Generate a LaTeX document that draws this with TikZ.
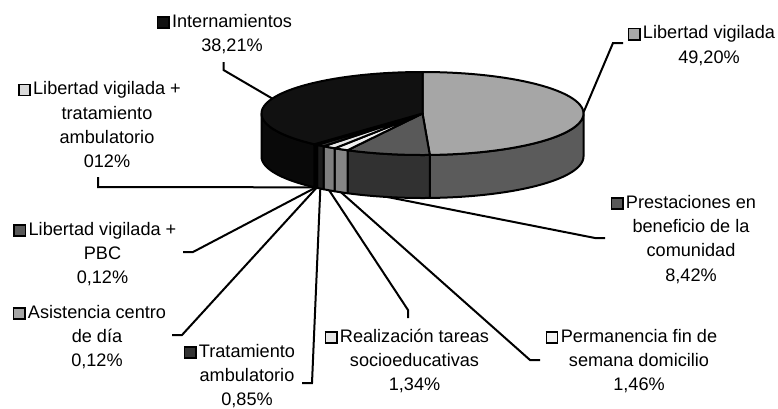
\documentclass[tikz,border=0pt]{standalone}
\usepackage{fontspec}
\setmainfont{Liberation Sans}
\setlength{\fboxsep}{0pt}
\setlength{\fboxrule}{1.2pt}
\definecolor{cLV}{HTML}{A6A6A6}
\definecolor{cPre}{HTML}{595959}
\definecolor{cPer}{HTML}{F2F2F2}
\definecolor{cRea}{HTML}{E6E6E6}
\definecolor{cTra}{HTML}{333333}
\definecolor{cAsi}{HTML}{A6A6A6}
\definecolor{cPBC}{HTML}{595959}
\definecolor{cLVT}{HTML}{D9D9D9}
\definecolor{cInt}{HTML}{111111}
\newcommand{\swatchbox}[1]{\llap{\fcolorbox{black}{#1}{\rule{0pt}{7.2pt}\rule{7.2pt}{0pt}}\hspace{1.8pt}}}
\newcommand{\pcx}{422.5}
\newcommand{\pcy}{113.5}
\newcommand{\pra}{161}
\newcommand{\prb}{41.5}
\newcommand{\pdep}{43}
\newcommand{\piewall}[3]{\filldraw[pieline, fill=#3!55!black] plot[domain=#1:#2, samples=40] ({\pcx+\pra*sin(\x)},{\pcy-\prb*cos(\x)}) -- plot[domain=#2:#1, samples=40] ({\pcx+\pra*sin(\x)},{\pcy-\prb*cos(\x)+\pdep}) -- cycle;}
\newcommand{\pietop}[3]{\filldraw[pieline, fill=#3] (\pcx,\pcy) -- plot[domain=#1:#2, samples=60] ({\pcx+\pra*sin(\x)},{\pcy-\prb*cos(\x)}) -- cycle;}
\begin{document}
\begin{tikzpicture}[x=0.75pt, y=-0.75pt,
  pieline/.style={draw=black, line width=1.5pt, line join=round},
  leader/.style={draw=black, line width=1.5pt},
  lbl/.style={anchor=north, inner sep=0pt, align=center, font=\fontsize{13.6}{18.2}\selectfont}]
\useasboundingbox (0,0) rectangle (778,408);
% side walls
\piewall{90}{177.40}{cLV}
\piewall{177.40}{207.76}{cPre}
\piewall{207.76}{213.03}{cPer}
\piewall{213.03}{217.86}{cRea}
\piewall{217.86}{220.93}{cTra}
\piewall{220.93}{221.36}{cAsi}
\piewall{221.36}{221.79}{cPBC}
\piewall{221.79}{222.22}{cLVT}
\piewall{222.22}{270}{cInt}
% top faces
\pietop{0}{177.40}{cLV}
\pietop{177.40}{207.76}{cPre}
\pietop{207.76}{213.03}{cPer}
\pietop{213.03}{217.86}{cRea}
\pietop{217.86}{220.93}{cTra}
\pietop{220.93}{221.36}{cAsi}
\pietop{221.36}{221.79}{cPBC}
\pietop{221.79}{222.22}{cLVT}
\pietop{222.22}{360}{cInt}
% attachment points
\coordinate (pI) at ({\pcx+\pra*sin(291.1)},{\pcy-\prb*cos(291.1)});
\coordinate (pLV) at ({\pcx+\pra*sin(88.7)},{\pcy-\prb*cos(88.7)});
\coordinate (pP) at ({\pcx+\pra*sin(192.58)},{\pcy-\prb*cos(192.58)+\pdep});
\coordinate (pPe) at ({\pcx+\pra*sin(210.4)},{\pcy-\prb*cos(210.4)+\pdep});
\coordinate (pR) at ({\pcx+\pra*sin(215.45)},{\pcy-\prb*cos(215.45)+\pdep});
\coordinate (pT) at ({\pcx+\pra*sin(219.4)},{\pcy-\prb*cos(219.4)+\pdep});
\coordinate (pA) at ({\pcx+\pra*sin(221.15)},{\pcy-\prb*cos(221.15)+\pdep});
\coordinate (pPBC) at ({\pcx+\pra*sin(221.58)},{\pcy-\prb*cos(221.58)+\pdep});
\coordinate (pLVT) at ({\pcx+\pra*sin(222.0)},{\pcy-\prb*cos(222.0)+\pdep});
% labels
\node[lbl] (lInt) at (232,10) {\strut\swatchbox{cInt}Internamientos\\38,21\%};
\node[lbl] (lLV) at (709,21.7) {\strut\swatchbox{cLV}Libertad vigilada\\49,20\%};
\node[lbl] (lLVT) at (107,77.5) {\strut\swatchbox{cLVT}Libertad vigilada +\\tratamiento\\ambulatorio\\012\%};
\node[lbl] (lPre) at (691,191) {\strut\swatchbox{cPre}Prestaciones en\\beneficio de la\\comunidad\\8,42\%};
\node[lbl] (lPer) at (639,325) {\strut\swatchbox{cPer}Permanencia fin de\\semana domicilio\\1,46\%};
\node[lbl] (lRea) at (414.5,325) {\strut\swatchbox{cRea}Realización tareas\\socioeducativas\\1,34\%};
\node[lbl] (lPBC) at (102.5,218) {\strut\swatchbox{cPBC}Libertad vigilada +\\PBC\\0,12\%};
\node[lbl] (lAsi) at (97,301) {\strut\swatchbox{cAsi}Asistencia centro\\de día\\0,12\%};
\node[lbl] (lTra) at (247,340) {\strut\swatchbox{cTra}Tratamiento\\ambulatorio\\0,85\%};
% leader elbows
\coordinate (eI1) at (223.5,62); \coordinate (eI2) at (223.5,70);
\coordinate (eLV1) at (623,43); \coordinate (eLV2) at (613,43);
\coordinate (eLVT1) at (98,177); \coordinate (eLVT2) at (98,187);
\coordinate (eP1) at (605,238); \coordinate (eP2) at (595,238);
\coordinate (ePe1) at (540,360); \coordinate (ePe2) at (530,360);
\coordinate (eR1) at (408,318); \coordinate (eR2) at (408,310);
\coordinate (ePBC1) at (183,252); \coordinate (ePBC2) at (193,252);
\coordinate (eA1) at (172,335); \coordinate (eA2) at (182,335);
\coordinate (eT1) at (302,383); \coordinate (eT2) at (312,383);
% leaders
\draw[leader] (eI1) -- (eI2) -- (pI);
\draw[leader] (eLV1) -- (eLV2) -- (pLV);
\draw[leader] (eLVT1) -- (eLVT2) -- (pLVT);
\draw[leader] (eP1) -- (eP2) -- (pP);
\draw[leader] (ePe1) -- (ePe2) -- (pPe);
\draw[leader] (eR1) -- (eR2) -- (pR);
\draw[leader] (ePBC1) -- (ePBC2) -- (pPBC);
\draw[leader] (eA1) -- (eA2) -- (pA);
\draw[leader] (eT1) -- (eT2) -- (pT);
\end{tikzpicture}
\end{document}
